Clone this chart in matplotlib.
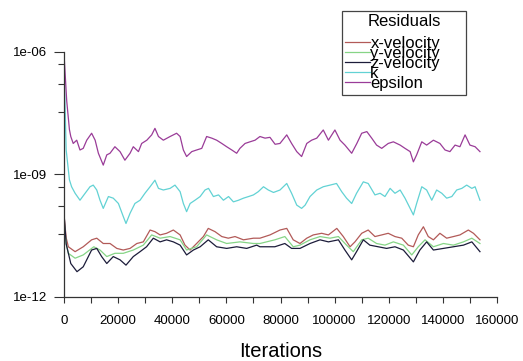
import matplotlib
matplotlib.use('Agg')
import numpy as np
import matplotlib.pyplot as plt
from matplotlib.ticker import FixedLocator, NullFormatter

plt.rcParams['font.family'] = ['Liberation Sans', 'DejaVu Sans']

# residuals, stored as log10(value); iterations in thousands
eps_it = [0, 1.0, 2.0, 2.5, 3.4, 4.7, 5.9, 7.1, 8.4, 10.2, 11.5, 12.7, 14.5, 15.8, 17.0, 18.8,
          20.7, 22.5, 24.4, 25.6, 27.5, 28.7, 30.6, 32.4, 33.6, 34.9, 36.7, 39.2, 41.6, 42.9,
          44.1, 45.3, 47.2, 49.0, 50.9, 52.7, 54.6, 56.4, 58.3, 60.1, 62.0, 63.8, 65.0, 66.9,
          68.7, 70.6, 72.4, 74.3, 76.1, 78.0, 79.8, 82.3, 84.1, 86.0, 87.8, 89.7, 91.5, 93.4,
          95.8, 97.7, 100.1, 102.0, 103.8, 106.3, 108.2, 110.0, 111.9, 113.7, 115.5, 117.4,
          119.8, 121.7, 124.2, 126.0, 127.9, 129.1, 130.3, 132.2, 134.0, 136.5, 138.9, 140.8,
          142.6, 144.5, 146.3, 148.2, 150.0, 151.9, 153.7]
eps_log = [-6.05, -7.20, -7.90, -8.07, -8.24, -8.16, -8.40, -8.36, -8.16, -7.99, -8.16, -8.48,
           -8.77, -8.52, -8.48, -8.32, -8.44, -8.65, -8.48, -8.32, -8.44, -8.24, -8.16, -8.03,
           -7.87, -8.07, -8.16, -8.07, -7.99, -8.07, -8.40, -8.56, -8.44, -8.40, -8.36, -8.07,
           -8.11, -8.16, -8.24, -8.32, -8.40, -8.48, -8.36, -8.24, -8.20, -8.16, -8.07, -8.11,
           -8.09, -8.26, -8.24, -8.03, -8.24, -8.44, -8.56, -8.24, -8.16, -8.11, -7.91, -8.16,
           -7.91, -8.16, -8.28, -8.48, -8.24, -7.99, -7.95, -8.11, -8.28, -8.36, -8.24, -8.20,
           -8.28, -8.36, -8.44, -8.69, -8.52, -8.20, -8.28, -8.16, -8.24, -8.40, -8.44, -8.28,
           -8.32, -8.03, -8.28, -8.32, -8.44]

k_it = [0, 0.8, 2.0, 2.8, 4.1, 5.9, 7.8, 9.6, 10.8, 12.1, 13.3, 14.5, 16.4, 18.2, 20.1, 21.9,
        22.9, 24.4, 26.2, 28.1, 29.9, 31.8, 33.6, 34.9, 36.7, 39.2, 41.0, 42.9, 44.1, 45.3,
        46.6, 48.4, 50.3, 52.1, 53.4, 55.2, 57.1, 58.9, 60.8, 62.6, 64.5, 66.3, 68.2, 70.0,
        71.8, 73.7, 75.5, 77.4, 79.8, 82.3, 84.1, 86.0, 87.8, 89.1, 90.9, 93.4, 95.8, 98.3,
        100.7, 102.6, 104.4, 106.3, 108.1, 110.6, 112.4, 114.9, 116.8, 118.6, 120.5, 122.3,
        124.2, 126.0, 127.9, 129.1, 130.3, 132.2, 134.0, 135.9, 137.7, 139.6, 141.4, 143.3,
        145.1, 147.0, 148.8, 150.7, 151.9, 153.7]
k_log = [-6.30, -8.40, -9.13, -9.30, -9.46, -9.63, -9.46, -9.30, -9.26, -9.38, -9.63, -9.83,
         -9.54, -9.58, -9.71, -10.03, -10.20, -9.95, -9.71, -9.63, -9.46, -9.30, -9.14, -9.34,
         -9.38, -9.34, -9.26, -9.42, -9.71, -9.91, -9.71, -9.63, -9.54, -9.38, -9.34, -9.54,
         -9.50, -9.63, -9.54, -9.67, -9.63, -9.58, -9.54, -9.50, -9.42, -9.30, -9.38, -9.44,
         -9.38, -9.22, -9.46, -9.75, -9.83, -9.75, -9.54, -9.38, -9.30, -9.26, -9.22, -9.42,
         -9.58, -9.71, -9.46, -9.18, -9.22, -9.50, -9.46, -9.54, -9.34, -9.46, -9.38, -9.58,
         -9.83, -9.99, -9.71, -9.30, -9.38, -9.63, -9.38, -9.46, -9.58, -9.54, -9.38, -9.34,
         -9.26, -9.34, -9.30, -9.63]

xv_it = [0, 0.8, 1.6, 4.1, 7.1, 10.2, 12.1, 14.5, 17.0, 19.5, 21.9, 24.4, 26.9, 29.3, 31.8,
         33.6, 35.5, 37.9, 40.4, 42.9, 44.7, 46.6, 49.0, 51.5, 53.3, 55.8, 58.3, 60.7, 63.2,
         66.3, 70.0, 72.4, 76.1, 79.8, 82.3, 84.7, 87.2, 89.7, 92.1, 95.2, 97.7, 100.8, 103.2,
         105.7, 107.5, 110.0, 112.4, 114.9, 117.4, 119.8, 122.3, 124.8, 127.2, 129.1, 130.9,
         132.8, 134.6, 136.5, 138.9, 141.4, 143.9, 146.3, 149.4, 151.3, 153.7]
xv_log = [-10.00, -10.55, -10.77, -10.89, -10.77, -10.60, -10.56, -10.69, -10.69, -10.81,
          -10.85, -10.81, -10.69, -10.65, -10.36, -10.40, -10.48, -10.44, -10.36, -10.48,
          -10.73, -10.85, -10.69, -10.52, -10.32, -10.40, -10.52, -10.56, -10.52, -10.60,
          -10.56, -10.56, -10.48, -10.36, -10.32, -10.60, -10.69, -10.56, -10.48, -10.44,
          -10.48, -10.32, -10.52, -10.77, -10.65, -10.44, -10.36, -10.52, -10.48, -10.44,
          -10.52, -10.56, -10.73, -10.77, -10.48, -10.28, -10.52, -10.60, -10.44, -10.56,
          -10.52, -10.48, -10.36, -10.44, -10.60]

yv_it = [0, 0.8, 1.6, 4.1, 7.1, 11.0, 13.3, 15.8, 18.8, 21.9, 25.6, 29.3, 32.4, 35.5, 39.2,
         42.9, 45.3, 49.0, 52.7, 56.4, 60.1, 65.0, 70.0, 72.4, 77.9, 81.6, 84.7, 87.2, 90.9,
         94.6, 98.3, 101.4, 104.4, 106.9, 110.0, 112.4, 115.5, 118.6, 121.7, 125.4, 128.5,
         130.9, 133.4, 136.5, 140.2, 143.9, 147.6, 150.7, 153.7]
yv_log = [-10.10, -10.70, -10.93, -11.05, -10.97, -10.77, -10.85, -11.01, -10.93, -10.93,
          -10.85, -10.73, -10.48, -10.56, -10.52, -10.60, -10.85, -10.77, -10.48, -10.60,
          -10.69, -10.65, -10.69, -10.69, -10.60, -10.52, -10.77, -10.73, -10.60, -10.52,
          -10.56, -10.52, -10.73, -10.89, -10.60, -10.56, -10.69, -10.73, -10.65, -10.73,
          -10.97, -10.77, -10.60, -10.77, -10.69, -10.73, -10.65, -10.56, -10.69]

zv_it = [0, 0.8, 2.5, 4.8, 7.1, 10.2, 12.1, 13.9, 15.8, 18.2, 20.7, 22.9, 25.6, 28.1, 30.5,
         33.0, 35.5, 37.9, 40.4, 42.9, 45.3, 47.8, 50.3, 53.3, 56.4, 60.1, 63.8, 67.5, 71.2,
         72.4, 77.9, 81.6, 84.1, 87.2, 90.9, 94.6, 97.7, 101.4, 103.8, 106.3, 108.1, 110.6,
         113.0, 116.1, 119.2, 122.3, 125.4, 129.1, 131.5, 134.0, 136.5, 140.2, 143.9, 147.6,
         150.7, 153.7]
zv_log = [-9.95, -10.70, -11.18, -11.38, -11.26, -10.85, -10.81, -11.01, -11.18, -11.01,
          -11.09, -11.22, -11.01, -10.89, -10.77, -10.56, -10.65, -10.60, -10.65, -10.73,
          -10.97, -10.85, -10.77, -10.60, -10.77, -10.81, -10.77, -10.81, -10.73, -10.77,
          -10.77, -10.69, -10.81, -10.81, -10.69, -10.60, -10.65, -10.60, -10.85, -11.09,
          -10.89, -10.60, -10.73, -10.77, -10.81, -10.77, -10.85, -11.14, -10.85, -10.65,
          -10.85, -10.81, -10.77, -10.73, -10.65, -10.89]

series = [
    ('x-velocity', xv_it, xv_log, '#b25a58'),
    ('y-velocity', yv_it, yv_log, '#86d486'),
    ('z-velocity', zv_it, zv_log, '#1c1c3a'),
    ('k', k_it, k_log, '#62d2d4'),
    ('epsilon', eps_it, eps_log, '#9a3c98'),
]

fig = plt.figure(figsize=(5.23, 3.61), dpi=100)
ax = fig.add_axes([0.1224, 0.1773, 0.8279, 0.6787])

for name, it, lg, col in series:
    ax.plot(np.array(it) * 1000, 10.0 ** np.array(lg), color=col, lw=0.9, label=name)

ax.set_yscale('log')
ax.set_ylim(1e-12, 1e-06)
ax.set_xlim(0, 160000)
ax.set_yticks([1e-12, 1e-09, 1e-06])
ax.set_yticklabels(['1e-12', '1e-09', '1e-06'])
ax.yaxis.set_minor_locator(FixedLocator([5e-7, 1.67e-7, 3.4e-8, 5e-10, 1.67e-10, 3.4e-11]))
ax.yaxis.set_minor_formatter(NullFormatter())
ax.set_xticks(np.arange(0, 160001, 20000))
ax.set_xticklabels([str(v) for v in range(0, 160001, 20000)])
ax.xaxis.set_minor_locator(FixedLocator(np.arange(10000, 160000, 20000)))

ax.tick_params(axis='both', which='major', direction='out', length=7, width=0.8,
               labelsize=9.5, color='#333333', pad=5)
ax.tick_params(axis='both', which='minor', direction='out', length=4, width=0.8, color='#333333')
ax.tick_params(axis='x', which='major', length=4, pad=9)
for s in ['top', 'right']:
    ax.spines[s].set_visible(False)
for s in ['left', 'bottom']:
    ax.spines[s].set_color('#333333')
    ax.spines[s].set_linewidth(0.9)

ax.set_xlabel('Iterations', fontsize=14.5, labelpad=11)

# legend box spans roughly x 342..466, y 11..93 in the reference
leg = ax.legend(title='Residuals', loc='upper left',
                bbox_to_anchor=(342 / 523, 1 - 93 / 361, 124 / 523, 82 / 361),
                bbox_transform=fig.transFigure, mode='expand', borderaxespad=0,
                fontsize=12, title_fontsize=12,
                labelspacing=-0.29, handlelength=1.45, handletextpad=0.05, borderpad=0.2,
                frameon=True, fancybox=False, edgecolor='#444444', framealpha=1)
leg.get_frame().set_linewidth(0.9)
leg._legend_box.sep = 4.5  # gap between title and entries

fig.savefig('out.png', dpi=100)
